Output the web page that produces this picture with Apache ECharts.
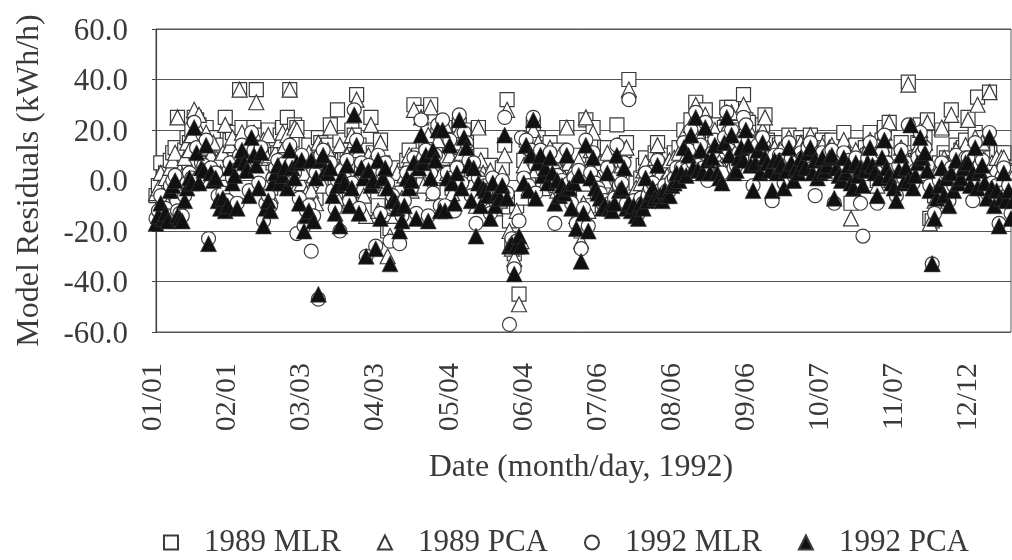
<!DOCTYPE html>
<html><head><meta charset="utf-8">
<style>html,body{margin:0;padding:0;background:#fff}#c{width:1012px;height:560px}</style>
<script src="https://cdn.jsdelivr.net/npm/echarts@6/dist/echarts.min.js"></script>
</head><body><div id="c"></div>
<script>
const tickLabels = ["01/01","02/01","03/03","04/03","05/04","06/04","07/06","08/06","09/06","10/07","11/07","12/12"];
const mlr1989 = [
-6,-2,7,-5,3,-2,8,11,13,25,6,5,12,17,15,20,25,24,22,16,
10,21,15,13,17,7,10,6,14,25,9,16,19,11,7,36,21,15,13,9,
13,21,36,14,11,18,12,20,-3,7,13,11,18,21,16,25,36,16,22,21,
9,2,5,-3,14,-2,4,-7,17,15,0,9,14,22,6,1,28,16,8,11,
12,-6,20,18,34,14,5,-4,-11,12,25,11,6,-10,16,7,-1,-20,-19,-8,
-11,5,-9,-5,4,8,12,-2,30,6,10,27,0,14,20,30,-3,9,18,4,
11,21,5,12,-3,8,17,22,13,20,15,9,0,5,-8,21,10,5,-7,-2,
6,-4,-9,1,-6,5,14,32,-16,-25,-29,-10,-45,-7,8,16,-1,13,22,6,
17,9,-1,13,4,15,8,10,-2,12,5,3,21,9,-4,7,-9,10,-20,-7,
24,-10,14,21,5,0,9,-4,2,13,6,-3,5,22,1,8,14,15,40,-5,
-3,-1,-7,1,6,9,0,3,7,11,15,5,1,8,4,10,3,11,5,13,
8,20,12,16,24,11,31,13,19,9,28,15,9,17,22,11,16,8,21,29,
18,29,10,14,21,20,34,24,23,15,10,16,19,11,22,26,16,13,9,15,
11,14,15,7,12,18,13,9,14,11,17,15,11,15,18,10,14,8,12,16,
13,10,15,16,5,11,10,7,19,8,13,-9,5,14,9,7,11,13,10,19,
12,11,0,9,16,21,10,23,7,5,4,10,15,8,11,39,9,5,8,15,
22,16,17,24,-15,-16,-6,5,7,20,11,9,4,28,7,14,10,12,13,16,
25,8,12,19,33,13,17,7,5,35,9,6,11,4,11,11,5,1,-4,4];
const pca1989 = [
-5,-3,3,-6,1,-4,5,8,11,25,4,2,9,15,12,18,28,22,26,14,
8,19,13,10,15,4,8,3,11,22,6,14,17,9,4,36,19,13,10,7,
11,19,31,12,9,16,10,18,-6,4,11,8,16,19,14,18,36,13,21,20,
7,-1,3,-5,11,-4,2,-9,15,13,-2,6,12,21,3,-2,-7,14,6,9,
10,-8,18,16,32,12,3,-6,-14,10,22,9,4,-12,15,5,-3,-30,-22,-10,
-14,3,-11,-7,2,6,10,-4,28,4,8,25,-2,12,18,29,-5,7,16,2,
9,22,3,10,-5,6,15,20,11,18,13,7,-2,3,-10,21,8,3,-9,-4,
4,-6,-11,-1,-8,3,10,28,-20,-27,-31,-12,-49,-24,6,14,-3,11,20,4,
15,7,-3,11,2,13,6,8,-4,10,3,1,21,7,-6,5,-14,8,-24,-9,
25,-12,12,19,3,-2,7,-6,0,11,4,-5,3,10,-1,6,12,13,36,-7,
-5,-3,-9,-1,4,7,-2,1,5,9,14,3,-1,6,2,8,1,9,3,11,
6,18,10,14,22,9,30,11,17,7,26,13,7,15,20,9,14,6,19,27,
16,27,8,12,19,18,30,22,21,13,8,14,17,9,20,25,14,11,7,13,
9,12,13,5,10,17,11,7,12,9,15,13,9,16,18,8,12,6,10,14,
11,8,13,14,3,9,8,5,16,6,11,-15,3,12,7,5,9,11,8,16,
10,9,-2,7,14,19,8,23,5,3,2,8,13,6,9,38,7,3,6,13,
20,14,15,23,-17,-33,-8,3,5,21,9,7,2,26,5,12,8,10,11,14,
24,6,10,17,30,11,15,5,3,35,7,4,9,2,9,9,3,-1,-6,2];
const mlr1992 = [
-15,-12,-6,-13,-11,-14,-2,0,2,-12,-13,-14,-6,-1,3,1,23,13,1,7,
6,16,-23,5,2,3,-6,-9,-5,-10,-8,7,1,4,-9,10,14,9,6,-4,
19,12,8,-1,13,-16,-9,-6,-10,1,5,8,1,4,7,-1,14,7,3,-21,
-7,10,-18,-12,-10,-28,-14,3,-47,10,12,6,5,7,-4,-11,0,-20,4,1,
8,-8,-1,28,16,-11,7,3,-30,6,0,2,-26,10,-13,3,7,-1,-24,-6,
-10,-9,-25,-14,-8,3,-1,-3,9,-13,7,24,9,12,-14,3,-5,10,22,-10,
24,-10,3,16,1,-12,5,26,-1,19,15,8,-6,7,-17,1,-8,-1,-2,-4,
-13,1,-8,-3,-5,0,25,-5,-57,-23,-35,-24,-16,17,1,16,-2,12,25,-5,
9,12,4,7,1,11,5,-17,2,-4,0,-3,12,-1,-9,1,-17,4,-27,-11,
16,-18,3,11,-1,-3,-5,-9,-8,5,-9,-10,-7,14,-2,-1,7,-9,32,-10,
-8,-12,-13,-7,-9,3,-6,-3,-1,-5,8,-4,-6,-2,-4,-4,0,1,5,2,
5,15,4,12,20,7,27,6,14,5,23,0,5,11,16,5,3,3,17,27,
12,20,5,6,11,15,25,22,16,8,-2,9,14,5,17,11,9,6,-8,10,
5,10,8,-1,6,15,9,2,7,5,11,9,7,13,15,5,-6,3,5,11,
6,8,11,12,-9,7,4,2,11,5,8,1,-1,9,4,-9,-22,6,9,15,
8,5,-9,3,11,18,7,4,1,-1,-6,6,12,1,7,22,2,-1,4,9,
19,11,13,6,-2,-33,-13,-5,0,7,-4,3,-8,5,-2,10,1,3,7,9,
9,0,-8,15,-1,6,8,1,-5,19,-1,-8,-2,-17,-5,5,-6,-2,-13,-6];
const pca1992 = [
-17,-14,-9,-15,-13,-16,-4,-2,0,-14,-15,-16,-8,-3,1,-1,21,11,-1,5,
4,14,-25,3,0,1,-8,-11,-7,-12,-10,5,-1,2,-11,8,12,7,4,-6,
17,10,6,-3,11,-18,-11,-8,-12,-1,3,6,-1,2,5,-3,12,5,1,7,
-9,8,-20,-14,-12,8,-16,1,-45,8,10,4,3,5,-6,-13,-2,-18,2,-1,
6,-10,-3,26,14,-13,5,1,-30,4,-2,0,-27,8,-15,1,5,-3,-33,-8,
-8,-11,-20,-16,-10,1,-3,0,7,-15,5,18,7,10,-16,1,12,8,20,-12,
20,-12,1,14,-1,-9,3,24,-3,17,13,6,-8,5,-22,-1,-10,-3,-4,-6,
-15,-1,-10,-5,-7,-2,18,-7,-26,-25,-37,-26,-22,-26,-1,14,-4,10,24,-7,
7,10,2,5,-1,9,3,-9,0,-6,-2,-5,10,-3,-11,-1,-19,2,-32,-13,
14,-20,1,9,-3,-5,-7,-11,-10,3,-11,-12,-9,10,-4,-3,5,-11,-9,-12,
-10,-14,-15,-9,-11,1,-8,-5,-3,-7,6,-6,-8,-4,-6,-6,-2,-1,3,0,
3,13,2,10,18,5,25,4,12,3,21,8,3,9,14,3,1,-1,15,25,
10,18,3,4,9,13,8,20,14,6,-4,7,12,3,15,9,7,4,-4,8,
3,8,6,-3,4,13,7,0,5,3,9,7,5,11,13,3,8,1,3,9,
4,6,9,10,-7,5,2,0,9,3,6,-1,-3,7,2,5,-2,4,7,13,
6,3,-6,1,9,16,5,2,-1,-3,-8,4,10,-1,5,0,22,-3,2,7,
17,9,11,4,-4,-33,-15,-7,-2,5,-6,1,-10,3,-4,8,-1,1,5,7,
7,-2,3,13,-3,4,6,-1,-7,17,-3,-10,-4,-18,-7,3,-8,-4,-15,-8];
const seriesNames = ["1989 MLR","1989 PCA","1992 MLR","1992 PCA"];
const FONT = '"Liberation Serif"';
const INK = '#3a3a3a';
const pts = a => a.map((v,i)=>[i,v]);
const mk = (name,data,symbol,size,fill,bw) => ({
  name, type:'scatter', data:pts(data), symbol, symbolSize:size, silent:true, clip:false,
  itemStyle:{color:fill,borderColor:INK,borderWidth:bw,opacity:1}
});
const chart = echarts.init(document.getElementById('c'),null,{renderer:'canvas'});
chart.setOption({
  animation:false,
  backgroundColor:'#fff',
  grid:{left:156,right:1,top:29,bottom:228,outerBoundsMode:'none',show:true,borderColor:'#555',borderWidth:1,backgroundColor:'transparent'},
  xAxis:{type:'value',min:0,max:358,interval:31,
    name:'Date (month/day, 1992)',nameLocation:'middle',nameGap:120,
    nameTextStyle:{fontFamily:FONT,fontSize:32,color:INK,padding:[0,5,0,0]},
    axisLine:{show:true,lineStyle:{color:'#444',width:1.2}},axisTick:{show:false},splitLine:{show:false},
    axisLabel:{rotate:90,margin:31,fontFamily:FONT,fontSize:30,color:INK,showMaxLabel:false,
      rich:{t:{fontFamily:FONT,fontSize:30,color:INK,padding:[0,0,5,0]}},
      formatter:v=>{const s=tickLabels[Math.round(v/31)];return s?'{t|'+s+'}':'';}}},
  yAxis:{type:'value',min:-60,max:60,interval:20,
    name:'Model Residuals (kWh/h)',nameLocation:'middle',nameGap:110,
    nameTextStyle:{fontFamily:FONT,fontSize:32,color:INK},
    axisLine:{show:true,lineStyle:{color:'#444',width:1.2}},
    axisTick:{show:true,length:4,lineStyle:{color:'#444'}},
    splitLine:{show:true,lineStyle:{color:'#555',width:1.2}},
    axisLabel:{margin:28,fontFamily:FONT,fontSize:31,color:INK,
      rich:{t:{fontFamily:FONT,fontSize:31,color:INK,padding:[5,0,0,0]}},
      formatter:v=>'{t|'+v.toFixed(1)+'}'}},
  legend:{left:158,top:522,itemWidth:14,itemHeight:14,itemGap:36,
    textStyle:{fontFamily:FONT,fontSize:31,color:INK,padding:[0,0,0,21]},
    data:[
      {name:seriesNames[0],icon:'rect'},
      {name:seriesNames[1],icon:'triangle'},
      {name:seriesNames[2],icon:'circle'},
      {name:seriesNames[3],icon:'triangle'}]},
  series:[
    mk(seriesNames[0],mlr1989,'rect',14,'#fff',1.2),
    mk(seriesNames[1],pca1989,'triangle',15,'#fff',1.2),
    mk(seriesNames[2],mlr1992,'circle',14,'#fff',1.2),
    mk(seriesNames[3],pca1992,'triangle',16,'#111',0.6)
  ]
});
</script></body></html>
